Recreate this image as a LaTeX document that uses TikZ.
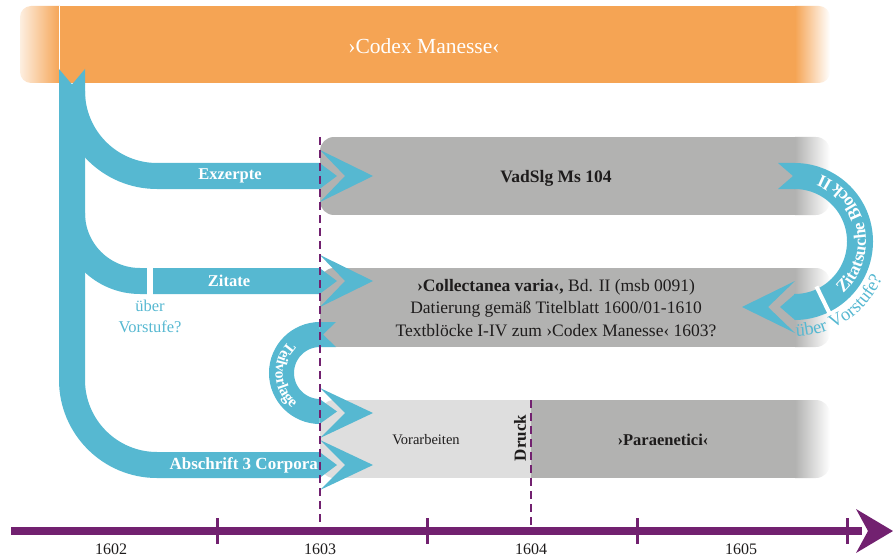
\documentclass[tikz,border=0pt]{standalone}
\usepackage{fontspec}
\setmainfont{Liberation Serif}
\usetikzlibrary{decorations.text}
\definecolor{cmorange}{RGB}{245,164,84}
\definecolor{cmblue}{RGB}{86,184,209}
\definecolor{cmgray}{RGB}{178,178,177}
\definecolor{cmlight}{RGB}{222,222,222}
\definecolor{cmpurple}{RGB}{114,33,112}
\definecolor{cmtext}{RGB}{30,28,28}
\tikzset{
  band/.style={draw=cmblue, line width=26pt},
  chev/.style={fill=cmblue},
  bandlabel/.style={text=white, font=\bfseries\fontsize{16.5}{19}\selectfont, inner sep=0pt},
  boxtext/.style={text=cmtext, font=\fontsize{17.5}{22.5}\selectfont, inner sep=0pt},
  yearlabel/.style={text=cmtext, font=\fontsize{16}{19}\selectfont, inner sep=0pt},
  dashline/.style={draw=cmpurple, line width=1.8pt, dash pattern=on 8pt off 5pt},
  tick/.style={draw=cmpurple, line width=3pt},
}
\begin{document}
\begin{tikzpicture}[x=1pt,y=1pt]
\useasboundingbox (0,0) rectangle (893,-556);

% orange bar
\begin{scope}
  \clip[rounded corners=11pt] (20,-6) rectangle (830,-83);
  \shade[left color=cmorange!18!white, right color=cmorange] (20,-6) rectangle (60,-83);
  \fill[cmorange] (59.5,-6) rectangle (795.5,-83);
  \shade[left color=cmorange, right color=white] (795,-6) rectangle (830,-83);
\end{scope}
\draw[white, line width=0.8pt] (59.5,-6) -- (59.5,-83);
\node[text=white, font=\fontsize{21.5}{24}\selectfont, inner sep=0pt] (codex) at (424,-46) {›Codex Manesse‹};

% gray boxes
\begin{scope}
  \clip[rounded corners=14pt] (320,-137) rectangle (830,-215);
  \fill[cmgray] (320,-137) rectangle (795.5,-215);
  \shade[left color=cmgray, right color=white] (795,-137) rectangle (830,-215);
\end{scope}
\begin{scope}
  \clip[rounded corners=14pt] (320,-268) rectangle (830,-347);
  \fill[cmgray] (320,-268) rectangle (795.5,-347);
  \shade[left color=cmgray, right color=white] (795,-268) rectangle (830,-347);
\end{scope}
\begin{scope}
  \clip[rounded corners=14pt] (320,-400) rectangle (830,-478);
  \fill[cmlight] (320,-400) rectangle (531,-478);
  \fill[cmgray] (531,-400) rectangle (795.5,-478);
  \shade[left color=cmgray, right color=white] (795,-400) rectangle (830,-478);
\end{scope}

% blue trunk and branches
\draw[band] (72,-84) -- (72,-380) arc[start angle=180, end angle=270, radius=85] -- (320,-465);
\draw[band] (72,-91) arc[start angle=180, end angle=270, radius=85] -- (320,-176);
\draw[band] (72,-213) arc[start angle=180, end angle=270, radius=68] -- (320,-281);
\fill[cmblue] (59,-84.5) -- (59,-69) -- (72,-84.5) -- cycle;
\fill[cmblue] (85,-84.5) -- (85,-69) -- (72,-84.5) -- cycle;
\fill[white] (147,-266) rectangle (153,-296);

% band tips and chevrons
\foreach \c in {176,281,465}
  \fill[chev] (319.5,-\c+13) -- (337,-\c) -- (319.5,-\c-13) -- cycle;
\foreach \c/\h in {176/26, 281/26, 413/25, 465/25}
  \fill[chev] (320,-\c+\h) -- (373,-\c) -- (320,-\c-\h) -- (345,-\c) -- cycle;

% Teilvorlage arc
\draw[cmblue, line width=25pt] (320,-334.5) arc[start angle=90, end angle=270, radius=38.5];
\fill[chev] (319.5,-322) -- (336,-322) -- (323,-334.5) -- (336,-347) -- (319.5,-347) -- cycle;
\fill[chev] (319.5,-399) -- (337,-411.5) -- (319.5,-424) -- cycle;
\path[decorate, decoration={text along path, text color=white,
  text={|\bfseries\fontsize{15.5}{19}\selectfont|Teilvorlage}}]
  ([shift={(135:44.5)}]320,-373) arc[start angle=135, end angle=250, radius=44.5];

% Zitatsuche arc
\coordinate (zc) at (794.5,-241.5);
\draw[cmblue, line width=26pt] (794.5,-176) arc[start angle=90, end angle=-90, radius=65.5];
\fill[chev] (795,-163) -- (778,-163) -- (793,-176) -- (778,-189) -- (795,-189) -- cycle;
\fill[chev] (795,-294) -- (780,-307) -- (795,-320) -- cycle;
\fill[chev] (795,-281) -- (742,-307) -- (795,-333) -- (768,-307) -- cycle;
\draw[white, line width=4pt] ([shift={(-64:50)}]zc) -- ([shift={(-64:80)}]zc);
\path[decorate, decoration={text along path, text color=white,
  text={|\bfseries\fontsize{17.5}{20}\selectfont|Zitatsuche Block II}}]
  ([shift={(-47:71.5)}]zc) arc[start angle=-47, end angle=115, radius=71.5];
\path[decorate, decoration={text along path, text color=cmblue,
  text={|\fontsize{18.5}{20}\selectfont|über Vorstufe?}}]
  ([shift={(-89:95)}]zc) arc[start angle=-89, end angle=5, radius=95];

% labels
\node[bandlabel] (exz) at (230,-176) {Exzerpte};
\node[bandlabel] (zit) at (229,-281) {Zitate};
\node[bandlabel, font=\bfseries\fontsize{17}{19}\selectfont, anchor=east] (abs) at (318,-465) {Abschrift 3 Corpora};
\node[text=cmblue, font=\fontsize{16.5}{21}\selectfont, align=center, inner sep=0pt] (uv) at (150,-316) {über\\Vorstufe?};
\node[boxtext, font=\bfseries\fontsize{17.5}{19}\selectfont] (vad) at (556,-178) {VadSlg Ms 104};
\node[boxtext, align=center] (coll) at (556,-308) {\textbf{›Collectanea varia‹,} Bd. II (msb 0091)\\Datierung gemäß Titelblatt 1600/01-1610\\Textblöcke I-IV zum ›Codex Manesse‹ 1603?};
\node[boxtext, font=\fontsize{14.5}{16}\selectfont] (vor) at (426,-440) {Vorarbeiten};
\node[boxtext, font=\bfseries\fontsize{16.5}{19}\selectfont] (par) at (663,-440) {›Paraenetici‹};
\node[boxtext, font=\bfseries\fontsize{17}{19}\selectfont, rotate=90] (druck) at (520,-438) {Druck};

% dashed year lines
\draw[dashline] (320,-137) -- (320,-531);
\draw[dashline] (531,-400) -- (531,-531);

% timeline
\coordinate (tl0) at (11,-531);
\coordinate (tl1) at (862,-531);
\draw[cmpurple, line width=8pt] (tl0) -- (tl1);
\fill[cmpurple] (856,-509) -- (893,-531) -- (856,-553) -- (868,-531) -- cycle;
\foreach \x in {217,427,637,847}
  \draw[tick] (\x,-518) -- (\x,-544);
\node[yearlabel] (y1602) at (111,-549) {1602};
\node[yearlabel] (y1603) at (320,-549) {1603};
\node[yearlabel] (y1604) at (531,-549) {1604};
\node[yearlabel] (y1605) at (741,-549) {1605};
\end{tikzpicture}
\end{document}
